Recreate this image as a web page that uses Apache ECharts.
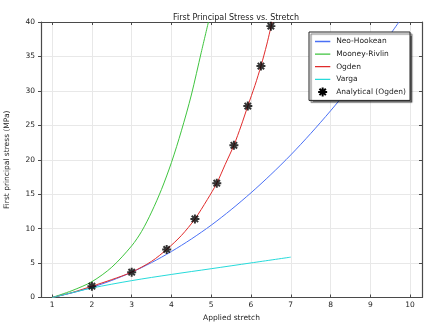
<!DOCTYPE html>
<html>
<head>
<meta charset="utf-8">
<script src="https://cdn.jsdelivr.net/npm/echarts@6/dist/echarts.min.js"></script>
<style>
html,body{margin:0;padding:0;background:#fff;}
#chart{width:428px;height:322px;}
</style>
</head>
<body>
<div id="chart"></div>
<script>
// ---- data ----
const stretchNeo = [1,1.5,2,2.5,3,3.5,4,4.5,5,5.5,6,6.5,7,7.5,8,8.5,9,9.5,9.72];
const stressNeo  = [0,0.67,1.48,2.48,3.67,5.07,6.68,8.49,10.5,12.75,15.2,17.85,20.7,23.8,27.1,30.6,34.3,38.2,40];

const stretchMR = [1,1.5,2,2.5,3,3.25,3.5,3.75,4,4.25,4.5,4.75,4.93];
const stressMR  = [0,1.0,2.3,4.4,7.5,9.6,12.4,15.7,19.6,24.2,29.4,35.6,40];

const stretchOg = [1,1.5,2,2.5,3,3.5,3.88,4.25,4.59,4.9,5.14,5.35,5.57,5.75,5.92,6.1,6.25,6.4,6.53];
const stressOg  = [0,0.72,1.64,2.6,3.68,5.25,6.98,9.0,11.4,14.2,16.6,19.3,22.1,24.9,27.8,30.8,33.6,36.8,40];

const stretchVa = [1,1.5,2,3,4,5,6,7];
const stressVa  = [0,0.7,1.38,2.45,3.35,4.18,5.02,5.86];

const stretchAn = [2,3,3.88,4.59,5.14,5.57,5.92,6.25,6.5];
const stressAn  = [1.64,3.68,6.98,11.4,16.6,22.1,27.8,33.6,39.4];

const xTicks = [1,2,3,4,5,6,7,8,9,10];
const yTicks = [0,5,10,15,20,25,30,35,40];

const seriesNames = ['Neo-Hookean','Mooney-Rivlin','Ogden','Varga','Analytical (Ogden)'];
const seriesColors = ['#4a70f5','#3fc43f','#e02b2b','#26dada','#000000'];
const titleText = 'First Principal Stress vs. Stretch';
const xName = 'Applied stretch';
const yName = 'First principal stress (MPa)';

// ---- build ----
function pairs(xs, ys){ return xs.map((x,i)=>[x, ys[i]]); }

const FONT = 'DejaVu Sans';
const FS = 7.5;
const frameColor = '#4a4a4a';
const gridColor = '#e8e8e8';

const star = 'path://M-0.22,-1 L0.22,-1 L0.22,1 L-0.22,1 Z ' +
  'M-1,-0.22 L1,-0.22 L1,0.22 L-1,0.22 Z ' +
  'M0.552,-0.863 L0.863,-0.552 L-0.552,0.863 L-0.863,0.552 Z ' +
  'M-0.863,-0.552 L-0.552,-0.863 L0.863,0.552 L0.552,0.863 Z';
// legend line icon: thin bar in a 17x10 box (degenerate corners keep the box size)
const lineIcon = 'path://M0,0 L0,0 Z M0,4.3 L17,4.3 L17,5.7 L0,5.7 Z M17,10 L17,10 Z';

const chart = echarts.init(document.getElementById('chart'), null, {renderer:'canvas'});
const lineSeries = (i, data) => ({
  name:seriesNames[i], type:'line', data, symbol:'none', smooth:0.3,
  lineStyle:{color:seriesColors[i], width:1}, itemStyle:{color:seriesColors[i]},
  xAxisIndex:0, yAxisIndex:0, clip:true
});

chart.setOption({
  animation:false,
  backgroundColor:'#fff',
  title:{
    text:titleText, left:231, top:9, textAlign:'center',
    textStyle:{fontFamily:FONT, fontSize:8, fontWeight:'normal', color:'#222'}
  },
  grid:{left:41, top:22, right:6, bottom:24.5, containLabel:false, outerBoundsMode:'none'},
  legend:{
    data:seriesNames.map((n,i)=> ({
      name:n, icon: i===4 ? star : lineIcon,
      itemStyle:{color:seriesColors[i], borderWidth:0, opacity:1}
    })),
    orient:'vertical', left:309, top:32, width:104,
    padding:[5,4,4,6], itemGap:3.6, itemWidth:17, itemHeight:9,
    backgroundColor:'#fff', borderColor:'#222', borderWidth:1,
    shadowColor:'rgba(0,0,0,0.55)', shadowOffsetX:2, shadowOffsetY:2, shadowBlur:1,
    textStyle:{fontFamily:FONT, fontSize:FS, color:'#222', padding:[0,0,0,0]}
  },
  xAxis:[{
    type:'value', min:0.72, max:10.3, position:'bottom',
    name:xName, nameLocation:'middle', nameGap:12,
    nameTextStyle:{fontFamily:FONT, fontSize:FS, color:'#222'},
    axisLine:{show:true, onZero:false, lineStyle:{color:frameColor, width:1.2}},
    axisTick:{show:true, inside:true, length:3, customValues:xTicks, lineStyle:{color:frameColor}},
    axisLabel:{customValues:xTicks, fontFamily:FONT, fontSize:FS, color:'#222', margin:4},
    splitLine:{show:true, lineStyle:{color:gridColor, width:1}}
  },{
    type:'value', min:0.72, max:10.3, position:'top',
    axisLine:{show:true, onZero:false, lineStyle:{color:frameColor, width:1.2}},
    axisTick:{show:true, inside:true, length:3, customValues:xTicks, lineStyle:{color:frameColor}},
    axisLabel:{show:false}, splitLine:{show:false}
  }],
  yAxis:[{
    type:'value', min:0, max:40, interval:5, position:'left',
    name:yName, nameLocation:'middle', nameGap:30, nameRotate:90,
    nameTextStyle:{fontFamily:FONT, fontSize:FS, color:'#222'},
    axisLine:{show:true, onZero:false, lineStyle:{color:frameColor, width:1.2}},
    axisTick:{show:true, inside:false, length:3, lineStyle:{color:frameColor}},
    axisLabel:{fontFamily:FONT, fontSize:FS, color:'#222', margin:6},
    splitLine:{show:true, lineStyle:{color:gridColor, width:1}}
  },{
    type:'value', min:0, max:40, interval:5, position:'right',
    axisLine:{show:true, onZero:false, lineStyle:{color:frameColor, width:1.2}},
    axisTick:{show:true, inside:true, length:3, lineStyle:{color:frameColor}},
    axisLabel:{show:false}, splitLine:{show:false}
  }],
  series:[
    lineSeries(0, pairs(stretchNeo, stressNeo)),
    lineSeries(1, pairs(stretchMR, stressMR)),
    lineSeries(2, pairs(stretchOg, stressOg)),
    lineSeries(3, pairs(stretchVa, stressVa)),
    {
      name:seriesNames[4], type:'scatter', data:pairs(stretchAn, stressAn),
      symbol:star, symbolSize:9, itemStyle:{color:seriesColors[4]}, z:5
    }
  ]
});
</script>
</body>
</html>
